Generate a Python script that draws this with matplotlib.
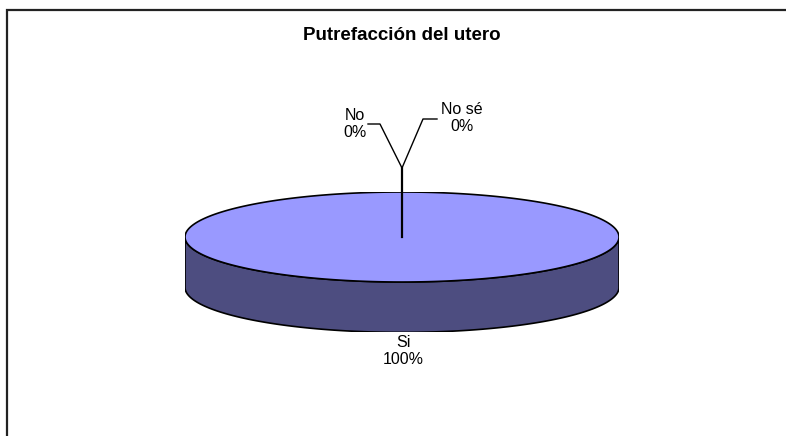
import numpy as np
import matplotlib.pyplot as plt
from matplotlib.patches import Polygon

plt.rcParams['font.family'] = ['Liberation Sans', 'DejaVu Sans']

# data
title = "Putrefacción del utero"
categories = ["Si", "No", "No sé"]
values = [100, 0, 0]

top_color = "#9999FF"
side_color = "#4D4D80"

fig = plt.figure(figsize=(7.86, 4.36), dpi=100)

# pie axes: top ellipse radius 1 in both units, depth below
depth = 1.12
px_l, px_r, px_t = 185, 619, 192
px_b = px_t + 45 * (2 + depth)
pax = fig.add_axes([px_l / 786, 1 - px_b / 436, (px_r - px_l) / 786, (px_b - px_t) / 436])
pax.set_xlim(-1, 1)
pax.set_ylim(-1 - depth, 1)
pax.axis("off")
pax.set_zorder(0)

# full figure axes in pixel coords for frame, title, labels
ax = fig.add_axes([0, 0, 1, 1])
ax.set_xlim(0, 786)
ax.set_ylim(436, 0)
ax.axis("off")
ax.set_zorder(1)
ax.patch.set_alpha(0)

# frame (left + top only visible)
ax.plot([7, 7, 786], [436, 10, 10], color="#222222", lw=1.6, solid_joinstyle="miter")

ax.text(402, 36, title, ha="center", va="center", fontsize=13.5, fontweight="bold")

total = sum(values)
start = 90.0
for cat, v in zip(categories, values):
    sweep = 360.0 * v / total
    if sweep <= 0:
        continue
    t0, t1 = np.radians(start - sweep), np.radians(start)
    ts = np.linspace(t0, t1, 400)
    # visible front side: angles between 180 and 360 inside this wedge
    side_t = np.linspace(np.pi, 2 * np.pi, 300)
    if sweep < 360:
        ang = (np.degrees(side_t) - (start - sweep)) % 360
        side_t = side_t[ang <= sweep + 1e-9]
    if len(side_t):
        xs = np.concatenate([np.cos(side_t), np.cos(side_t[::-1])])
        ys = np.concatenate([np.sin(side_t), np.sin(side_t[::-1]) - depth])
        pax.add_patch(Polygon(np.column_stack([xs, ys]), closed=True,
                              facecolor=side_color, edgecolor="black", lw=1.2))
    if sweep >= 360:
        pts = np.column_stack([np.cos(ts), np.sin(ts)])
    else:
        pts = np.vstack([[0, 0], np.column_stack([np.cos(ts), np.sin(ts)])])
    pax.add_patch(Polygon(pts, closed=True, facecolor=top_color,
                          edgecolor="black", lw=1.2))
    start -= sweep

# labels and leader lines (pixel coords)
lbl = {"Si": (403, 351), "No": (355, 124), "No sé": (462, 118)}
for cat, v in zip(categories, values):
    x, y = lbl[cat]
    ax.text(x, y, f"{cat}\n{v:.0f}%", ha="center", va="center",
            fontsize=11.5, linespacing=1.15)

cx, cy, jy = 402, 237, 168
ax.plot([cx, cx], [cy, jy], color="black", lw=1.6)
ax.plot([cx, 380, 368], [jy, 124, 124], color="black", lw=1)
ax.plot([cx, 423, 437], [jy, 119, 119], color="black", lw=1)

fig.savefig("out.png", dpi=100)
